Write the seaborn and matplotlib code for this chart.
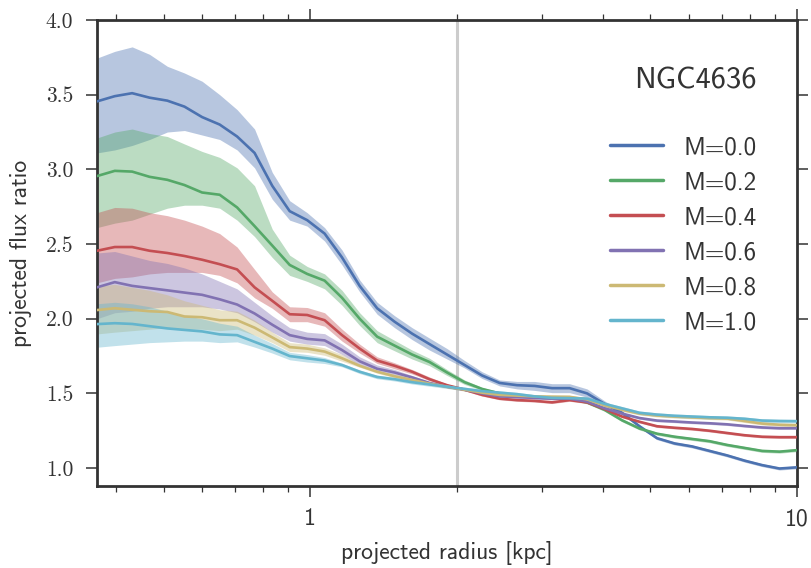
import numpy as np
import pandas as pd
import matplotlib
matplotlib.use("Agg")
import matplotlib.pyplot as plt
import seaborn as sns
from matplotlib.ticker import FixedLocator, LogLocator, NullFormatter, FormatStrFormatter

# ---------------- data ----------------
radius = [0.365, 0.397, 0.431, 0.468, 0.509, 0.552, 0.600, 0.652, 0.708, 0.769,
          0.836, 0.908, 0.986, 1.071, 1.163, 1.264, 1.373, 1.491, 1.620, 1.759,
          1.911, 2.076, 2.255, 2.450, 2.661, 2.891, 3.140, 3.411, 3.705, 4.025,
          4.372, 4.749, 5.159, 5.604, 6.087, 6.612, 7.182, 7.802, 8.475, 9.206, 10.0]

labels = ["M=0.0", "M=0.2", "M=0.4", "M=0.6", "M=0.8", "M=1.0"]
colors = ["#4C72B0", "#55A868", "#C44E52", "#8172B2", "#CCB974", "#64B5CD"]

m00 = [3.455, 3.49, 3.51, 3.48, 3.46, 3.42, 3.35, 3.30, 3.22, 3.11,
       2.89, 2.72, 2.66, 2.57, 2.41, 2.22, 2.07, 1.98, 1.90, 1.83,
       1.76, 1.69, 1.62, 1.57, 1.555, 1.55, 1.535, 1.535, 1.50, 1.43,
       1.37, 1.28, 1.20, 1.165, 1.145, 1.115, 1.085, 1.05, 1.02, 0.997, 1.005]
m02 = [2.955, 2.99, 2.985, 2.95, 2.93, 2.895, 2.845, 2.83, 2.745, 2.62,
       2.49, 2.36, 2.30, 2.255, 2.14, 2.00, 1.88, 1.82, 1.76, 1.71,
       1.64, 1.575, 1.53, 1.50, 1.485, 1.475, 1.47, 1.465, 1.44, 1.39,
       1.32, 1.265, 1.23, 1.21, 1.195, 1.18, 1.155, 1.135, 1.115, 1.11, 1.12]
m04 = [2.455, 2.48, 2.48, 2.455, 2.44, 2.42, 2.395, 2.365, 2.33, 2.21,
       2.12, 2.03, 2.025, 1.99, 1.89, 1.80, 1.72, 1.685, 1.645, 1.595,
       1.555, 1.525, 1.49, 1.465, 1.455, 1.45, 1.44, 1.455, 1.44, 1.395,
       1.345, 1.31, 1.28, 1.27, 1.262, 1.25, 1.235, 1.22, 1.21, 1.207, 1.207]
m06 = [2.21, 2.245, 2.22, 2.205, 2.19, 2.175, 2.16, 2.13, 2.095, 2.035,
       1.96, 1.89, 1.865, 1.855, 1.79, 1.715, 1.665, 1.64, 1.607, 1.57,
       1.545, 1.525, 1.50, 1.48, 1.475, 1.47, 1.465, 1.465, 1.445, 1.40,
       1.365, 1.335, 1.318, 1.312, 1.305, 1.30, 1.293, 1.282, 1.272, 1.267, 1.267]
m08 = [2.058, 2.07, 2.06, 2.05, 2.045, 2.015, 2.01, 1.99, 1.99, 1.94,
       1.875, 1.81, 1.80, 1.78, 1.735, 1.685, 1.645, 1.615, 1.59, 1.565,
       1.545, 1.525, 1.505, 1.49, 1.485, 1.48, 1.478, 1.477, 1.46, 1.42,
       1.39, 1.365, 1.352, 1.345, 1.34, 1.335, 1.332, 1.315, 1.298, 1.29, 1.287]
m10 = [1.964, 1.97, 1.965, 1.95, 1.935, 1.925, 1.915, 1.895, 1.89, 1.845,
       1.80, 1.75, 1.735, 1.72, 1.69, 1.645, 1.61, 1.595, 1.575, 1.56,
       1.545, 1.53, 1.515, 1.505, 1.495, 1.48, 1.47, 1.468, 1.465, 1.43,
       1.40, 1.37, 1.358, 1.35, 1.345, 1.34, 1.337, 1.33, 1.318, 1.315, 1.314]

# band extents below / above each line
m00_dlo = [0.345, 0.36, 0.35, 0.28, 0.21, 0.16, 0.12, 0.10, 0.09, 0.10,
           0.09, 0.06, 0.04, 0.05, 0.05, 0.04, 0.04, 0.04, 0.04, 0.04,
           0.03, 0.02, 0.02, 0.02, 0.025, 0.03, 0.03, 0.03, 0.025, 0.02,
           0.01, 0.01, 0.01, 0.01, 0.01, 0.01, 0.01, 0.01, 0.01, 0.01, 0.01]
m00_dhi = [0.29, 0.30, 0.31, 0.29, 0.23, 0.225, 0.24, 0.20, 0.18, 0.16,
           0.09, 0.07, 0.05, 0.04, 0.05, 0.04, 0.04, 0.04, 0.04, 0.04,
           0.04, 0.03, 0.025, 0.02, 0.025, 0.03, 0.03, 0.03, 0.03, 0.02,
           0.01, 0.01, 0.01, 0.01, 0.01, 0.01, 0.01, 0.01, 0.01, 0.01, 0.01]
m02_dlo = [0.345, 0.35, 0.325, 0.25, 0.19, 0.135, 0.085, 0.09, 0.085, 0.07,
           0.08, 0.07, 0.05, 0.055, 0.05, 0.045, 0.04, 0.035, 0.03, 0.025,
           0.02, 0.015, 0.01, 0.01, 0.01, 0.01, 0.01, 0.01, 0.01, 0.01,
           0.01, 0.01, 0.01, 0.01, 0.01, 0.01, 0.01, 0.01, 0.01, 0.01, 0.01]
m02_dhi = [0.255, 0.26, 0.285, 0.29, 0.29, 0.275, 0.275, 0.25, 0.265, 0.27,
           0.11, 0.065, 0.05, 0.045, 0.05, 0.04, 0.04, 0.035, 0.03, 0.025,
           0.02, 0.015, 0.01, 0.01, 0.01, 0.01, 0.01, 0.01, 0.01, 0.01,
           0.01, 0.01, 0.01, 0.01, 0.01, 0.01, 0.01, 0.01, 0.01, 0.01, 0.01]
m04_dlo = [0.215, 0.21, 0.20, 0.155, 0.13, 0.11, 0.085, 0.075, 0.09, 0.07,
           0.05, 0.05, 0.045, 0.04, 0.04, 0.03, 0.02, 0.02, 0.015, 0.01,
           0.008, 0.008, 0.008, 0.008, 0.008, 0.008, 0.008, 0.008, 0.008, 0.008,
           0.008, 0.008, 0.008, 0.008, 0.008, 0.008, 0.008, 0.008, 0.008, 0.008, 0.008]
m04_dhi = [0.255, 0.265, 0.26, 0.255, 0.25, 0.24, 0.225, 0.205, 0.15, 0.12,
           0.06, 0.05, 0.05, 0.05, 0.04, 0.03, 0.025, 0.02, 0.015, 0.015,
           0.008, 0.008, 0.008, 0.008, 0.008, 0.008, 0.008, 0.008, 0.008, 0.008,
           0.008, 0.008, 0.008, 0.008, 0.008, 0.008, 0.008, 0.008, 0.008, 0.008, 0.008]
m06_dlo = [0.21, 0.205, 0.17, 0.135, 0.11, 0.095, 0.08, 0.065, 0.055, 0.055,
           0.05, 0.04, 0.035, 0.035, 0.03, 0.025, 0.02, 0.015, 0.012, 0.008,
           0.008, 0.008, 0.008, 0.008, 0.008, 0.008, 0.008, 0.008, 0.008, 0.008,
           0.008, 0.008, 0.008, 0.008, 0.008, 0.008, 0.008, 0.008, 0.008, 0.008, 0.008]
m06_dhi = [0.23, 0.205, 0.20, 0.185, 0.18, 0.165, 0.14, 0.12, 0.105, 0.075,
           0.06, 0.05, 0.045, 0.045, 0.04, 0.03, 0.025, 0.02, 0.013, 0.008,
           0.008, 0.008, 0.008, 0.008, 0.008, 0.008, 0.008, 0.008, 0.008, 0.008,
           0.008, 0.008, 0.008, 0.008, 0.008, 0.008, 0.008, 0.008, 0.008, 0.008, 0.008]
m08_dlo = [0.16, 0.16, 0.14, 0.12, 0.105, 0.085, 0.08, 0.07, 0.06, 0.05,
           0.035, 0.03, 0.025, 0.025, 0.02, 0.01, 0.01, 0.01, 0.01, 0.01,
           0.01, 0.01, 0.01, 0.01, 0.01, 0.01, 0.01, 0.01, 0.01, 0.01,
           0.01, 0.01, 0.01, 0.01, 0.01, 0.01, 0.01, 0.01, 0.01, 0.01, 0.01]
m08_dhi = [0.16, 0.16, 0.15, 0.14, 0.115, 0.105, 0.08, 0.07, 0.06, 0.05,
           0.035, 0.03, 0.03, 0.025, 0.025, 0.01, 0.01, 0.01, 0.01, 0.01,
           0.01, 0.01, 0.01, 0.01, 0.01, 0.01, 0.01, 0.01, 0.01, 0.01,
           0.01, 0.01, 0.01, 0.01, 0.01, 0.01, 0.01, 0.01, 0.01, 0.01, 0.01]
m10_dlo = [0.155, 0.15, 0.135, 0.11, 0.09, 0.075, 0.065, 0.055, 0.045, 0.035,
           0.03, 0.025, 0.025, 0.02, 0.012, 0.012, 0.012, 0.012, 0.012, 0.012,
           0.012, 0.012, 0.012, 0.012, 0.012, 0.012, 0.012, 0.012, 0.012, 0.012,
           0.012, 0.012, 0.012, 0.012, 0.012, 0.012, 0.012, 0.012, 0.012, 0.012, 0.012]
m10_dhi = [0.136, 0.14, 0.135, 0.13, 0.115, 0.095, 0.085, 0.075, 0.06, 0.045,
           0.035, 0.025, 0.025, 0.02, 0.012, 0.012, 0.012, 0.012, 0.012, 0.012,
           0.012, 0.012, 0.012, 0.012, 0.012, 0.012, 0.012, 0.012, 0.012, 0.012,
           0.012, 0.012, 0.012, 0.012, 0.012, 0.012, 0.012, 0.012, 0.012, 0.012, 0.012]

series = [m00, m02, m04, m06, m08, m10]
dlos = [m00_dlo, m02_dlo, m04_dlo, m06_dlo, m08_dlo, m10_dlo]
dhis = [m00_dhi, m02_dhi, m04_dhi, m06_dhi, m08_dhi, m10_dhi]

vline_x = 2.0
title_text = "NGC4636"

# ---------------- styling ----------------
sns.set_theme(style="ticks")
plt.rcParams["font.family"] = ["cmss10", "DejaVu Sans"]
plt.rcParams["axes.unicode_minus"] = False

fig = plt.figure(figsize=(8.12, 5.68), dpi=100)
ax = fig.add_axes([97 / 812, 1 - 486 / 568, 700 / 812, 466 / 568])

rows = []
for lab, vals in zip(labels, series):
    for r, v in zip(radius, vals):
        rows.append({"r": r, "ratio": v, "model": lab})
df = pd.DataFrame(rows)

r_arr = np.array(radius)
for col, vals, dl, dh in zip(colors, series, dlos, dhis):
    v = np.array(vals)
    ax.fill_between(r_arr, v - np.array(dl), v + np.array(dh), color=col,
                    alpha=0.4, linewidth=0, zorder=1)

ax.axvline(vline_x, color="#cccccc", lw=2.2, zorder=0.5)

sns.lineplot(data=df, x="r", y="ratio", hue="model", hue_order=labels,
             palette=colors, linewidth=1.9, ax=ax, legend=False, zorder=3,
             estimator=None, sort=False)

ax.set_xscale("log")
ax.set_xlim(0.365, 10)
ax.set_ylim(0.88, 4.0)

ax.xaxis.set_major_locator(FixedLocator([1, 10]))
ax.xaxis.set_major_formatter(FormatStrFormatter("%g"))
ax.xaxis.set_minor_locator(LogLocator(base=10, subs=np.arange(2, 10)))
ax.xaxis.set_minor_formatter(NullFormatter())
ax.yaxis.set_major_locator(FixedLocator([1.0, 1.5, 2.0, 2.5, 3.0, 3.5, 4.0]))
ax.yaxis.set_major_formatter(FormatStrFormatter("%.1f"))

for side in ["left", "right", "top", "bottom"]:
    ax.spines[side].set_visible(True)
    ax.spines[side].set_color("#333333")
    ax.spines[side].set_linewidth(2.0)

ax.tick_params(axis="both", which="major", direction="out", length=8, width=1.1,
               color="#333333", top=True, right=True, pad=9)
ax.tick_params(axis="both", which="minor", direction="out", length=4, width=0.9,
               color="#333333", top=True, right=True)
ax.tick_params(axis="x", labelsize=17, labelcolor="#333333", pad=8)
ax.tick_params(axis="y", labelsize=15.5, labelcolor="#333333")
for t in ax.get_yticklabels():
    t.set_fontfamily(["cmr10", "DejaVu Serif"])

ax.set_xlabel("projected radius [kpc]", fontsize=17, color="#333333", labelpad=8)
ax.set_ylabel("projected flux ratio", fontsize=17, color="#333333", labelpad=10)

ax.text(0.943, 0.869, title_text, transform=ax.transAxes, ha="right", va="center",
        fontsize=22, color="#333333")

handles = [plt.Line2D([], [], color=c, lw=2.5) for c in colors]
leg = ax.legend(handles, labels, loc="upper left", bbox_to_anchor=(0.733, 0.751),
                frameon=False, fontsize=18, handlelength=2.1, handletextpad=0.85,
                labelspacing=0.48, borderaxespad=0, borderpad=0)
for t in leg.get_texts():
    t.set_color("#333333")

fig.savefig("out.png", dpi=100)
